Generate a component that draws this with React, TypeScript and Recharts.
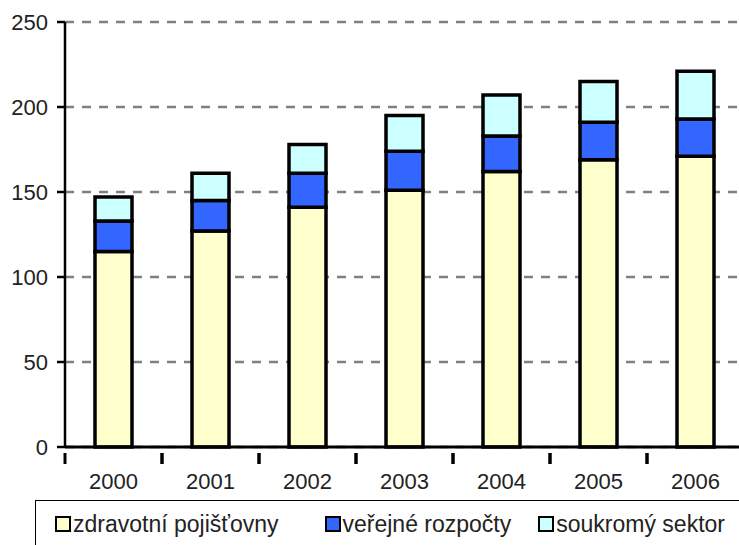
import React from 'react';
import { BarChart, Bar, XAxis, YAxis, CartesianGrid, Legend } from 'recharts';

const years = ['2000', '2001', '2002', '2003', '2004', '2005', '2006'];
const zdravotni = [115, 127, 141, 151, 162, 169, 171];
const verejne = [18, 18, 20, 23, 21, 22, 22];
const soukromy = [14, 16, 17, 21, 24, 24, 28];
const yTicks = [0, 50, 100, 150, 200, 250];

const seriesNames = ['zdravotní pojišťovny', 'veřejné rozpočty', 'soukromý sektor'];
const seriesColors = ['#FFFFCC', '#3366FF', '#CCFFFF'];

const data = years.map((y, i) => ({
  year: y,
  z: zdravotni[i],
  v: verejne[i],
  s: soukromy[i],
}));

const FONT = '"Liberation Sans", Arial, sans-serif';
const CHART_W = 744;
const PLOT_LEFT = 65;
const BAND = (CHART_W - PLOT_LEFT) / years.length;

const XTick = (props: any) => {
  const { x, y, payload } = props;
  const left = x - BAND / 2;
  return (
    <g>
      <line x1={left} y1={y - 2} x2={left} y2={y + 9} stroke="#000" strokeWidth={3} />
      <line x1={left + BAND} y1={y - 2} x2={left + BAND} y2={y + 9} stroke="#000" strokeWidth={3} />
      <text x={x} y={y + 34} textAnchor="middle" fontSize={22} fontFamily={FONT} fill="#222">
        {payload.value}
      </text>
    </g>
  );
};

const LegendBox = () => (
  <div
    style={{
      borderTop: '1.5px solid #000',
      borderLeft: '1.5px solid #000',
      height: 60,
      width: 760,
      display: 'flex',
      alignItems: 'flex-start',
      paddingTop: 12,
      paddingLeft: 19,
      boxSizing: 'border-box',
      fontFamily: FONT,
      fontSize: 23,
      color: '#222',
      lineHeight: '22px',
    }}
  >
    {seriesNames.map((n, i) => (
      <div key={n} style={{ display: 'flex', alignItems: 'center', marginRight: i === 0 ? 46 : 27 }}>
        <span
          style={{
            display: 'inline-block',
            width: 12,
            height: 12,
            background: seriesColors[i],
            border: '2.5px solid #000',
            marginRight: 2,
          }}
        />
        <span>{n}</span>
      </div>
    ))}
  </div>
);

export default function App() {
  return (
    <div style={{ position: 'absolute', left: 0, top: 0, width: 739, height: 545, overflow: 'hidden', background: '#fff' }}>
      <BarChart
        width={CHART_W}
        height={545}
        data={data}
        margin={{ top: 22, right: 0, left: 0, bottom: 0 }}
        barCategoryGap={0}
      >
        <CartesianGrid vertical={false} stroke="#808080" strokeWidth={2.5} strokeDasharray="9 8" />
        <YAxis
          width={PLOT_LEFT}
          domain={[0, 250]}
          ticks={yTicks}
          interval={0}
          axisLine={{ stroke: '#000', strokeWidth: 2.5 }}
          tickLine={{ stroke: '#000', strokeWidth: 2.5 }}
          tickSize={8}
          tickMargin={9}
          tick={{ fontSize: 22, fontFamily: FONT, fill: '#222' }}
        />
        <XAxis
          dataKey="year"
          height={53}
          axisLine={{ stroke: '#000', strokeWidth: 3 }}
          tickLine={false}
          interval={0}
          tick={<XTick />}
        />
        <Legend
          verticalAlign="bottom"
          content={<LegendBox />}
          wrapperStyle={{ left: 35, width: 720, height: 45, overflow: 'visible' }}
        />
        <Bar dataKey="z" name={seriesNames[0]} stackId="a" fill={seriesColors[0]} stroke="#000" strokeWidth={3.5} barSize={37} isAnimationActive={false} />
        <Bar dataKey="v" name={seriesNames[1]} stackId="a" fill={seriesColors[1]} stroke="#000" strokeWidth={3.5} barSize={37} isAnimationActive={false} />
        <Bar dataKey="s" name={seriesNames[2]} stackId="a" fill={seriesColors[2]} stroke="#000" strokeWidth={3.5} barSize={37} isAnimationActive={false} />
      </BarChart>
    </div>
  );
}
